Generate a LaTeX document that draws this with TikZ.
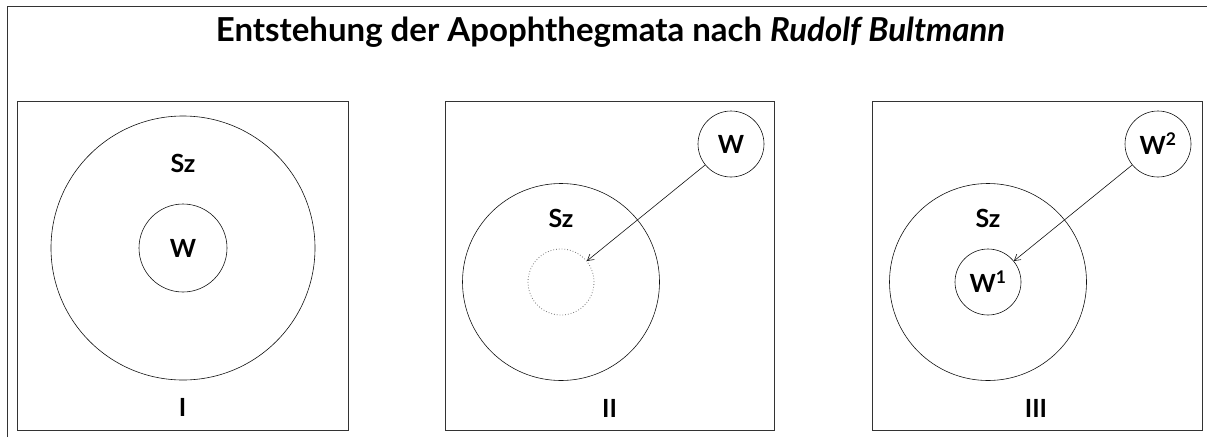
\documentclass[tikz,border=0pt]{standalone}
\usepackage{fontspec}
\setmainfont{Lato}
\usepackage{tikz}
\usetikzlibrary{
  arrows.meta,
  shapes,
  positioning,
  calc
}
\definecolor{apFrame}{HTML}{333333}
\definecolor{apLine}{HTML}{111111}
\definecolor{apDot}{HTML}{777777}
\tikzset{
  panel/.style={draw=apFrame, line width=1pt},
  ring/.style={draw=apLine, circle, line width=0.6pt, inner sep=0pt},
  bigring/.style={ring, minimum size=197pt},
  smallring/.style={ring, minimum size=66pt, font=\fontsize{25}{28}\selectfont\bfseries},
  ghost/.style={draw=apDot, circle, dotted, line width=0.8pt, inner sep=0pt, minimum size=66pt},
  word/.style={font=\fontsize{25}{28}\selectfont\bfseries, inner sep=0pt, anchor=base},
  flow/.style={-{Straight Barb[length=6pt, width=7pt]}, line width=0.6pt, apLine}
}
\begin{document}
\begin{tikzpicture}[x=1pt, y=-1pt]
  \useasboundingbox (0,0) rectangle (1207,437);
  % outer frame
  \draw[panel] (7,437) -- (7,6) -- (1207,6);
  \node[anchor=base, inner sep=0pt, font=\fontsize{33}{36}\selectfont\bfseries] (title) at (610.5,41)
    {Entstehung der Apophthegmata nach \textit{Rudolf Bultmann}};

  % panel I
  \draw[panel] (17,101) rectangle (348,430);
  \node[ring, minimum size=264pt] (sz1) at (183,248) {};
  \node[ring, minimum size=88pt, font=\fontsize{25}{28}\selectfont\bfseries] (w1) at (183,248) {W};
  \node[word] (sztext1) at (183,172) {Sz};
  \node[word] (num1) at (182.5,416) {I};

  % panel II
  \draw[panel] (445,101) rectangle (774,430);
  \node[bigring] (sz2) at (561,282) {};
  \node[ghost] (gap2) at (561,282) {};
  \node[smallring] (w2) at (731,144) {W};
  \node[word] (sztext2) at (561,227) {Sz};
  \node[word] (num2) at (609.5,417) {II};
  \draw[flow] (w2) -- (gap2);

  % panel III
  \draw[panel] (872,101) rectangle (1202,430);
  \node[bigring] (sz3) at (988,282) {};
  \node[smallring] (wa3) at (988,282) {W\textsuperscript{1}};
  \node[smallring] (wb3) at (1158,144) {W\textsuperscript{2}};
  \node[word] (sztext3) at (988,227) {Sz};
  \node[word] (num3) at (1036,417) {III};
  \draw[flow] (wb3) -- (wa3);
\end{tikzpicture}
\end{document}
